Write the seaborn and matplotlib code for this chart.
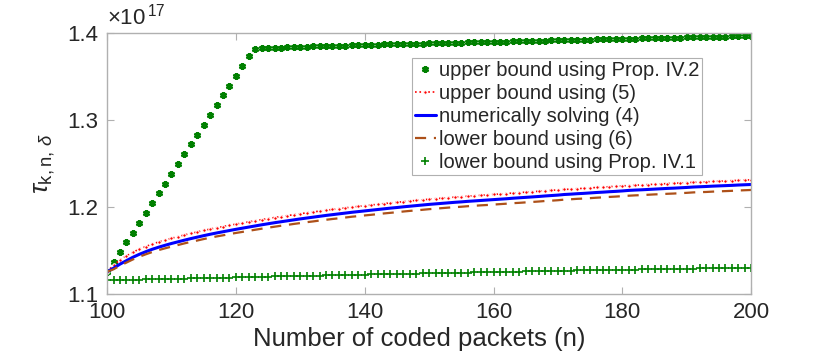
import numpy as np
import pandas as pd
import seaborn as sns
import matplotlib.pyplot as plt

# values in units of 1e17
n_vals = list(range(100, 201))

upper_prop = [
    1.1256, 1.1369, 1.1482, 1.1594, 1.1707, 1.1820, 1.1933, 1.2046, 1.2158, 1.2271,
    1.2384, 1.2497, 1.2610, 1.2722, 1.2835, 1.2948, 1.3061, 1.3174, 1.3286, 1.3399,
    1.3512, 1.3625, 1.3738, 1.3824, 1.3827, 1.3830, 1.3833, 1.3836, 1.3839, 1.3842,
    1.3845, 1.3847, 1.3849, 1.3851, 1.3853, 1.3855, 1.3857, 1.3859, 1.3861, 1.3864,
    1.3866, 1.3868, 1.3870, 1.3872, 1.3874, 1.3876, 1.3877, 1.3879, 1.3881, 1.3883,
    1.3885, 1.3887, 1.3889, 1.3890, 1.3892, 1.3894, 1.3896, 1.3897, 1.3899, 1.3901,
    1.3903, 1.3905, 1.3906, 1.3908, 1.3910, 1.3911, 1.3913, 1.3915, 1.3916, 1.3918,
    1.3920, 1.3922, 1.3923, 1.3925, 1.3927, 1.3928, 1.3930, 1.3932, 1.3933, 1.3935,
    1.3937, 1.3939, 1.3940, 1.3942, 1.3943, 1.3945, 1.3947, 1.3948, 1.3950, 1.3951,
    1.3953, 1.3955, 1.3956, 1.3958, 1.3959, 1.3961, 1.3963, 1.3964, 1.3966, 1.3967,
    1.3969]

upper_eq5 = [
    1.1256, 1.1331, 1.1391, 1.1438, 1.1480, 1.1516, 1.1546, 1.1574, 1.1598, 1.1620,
    1.1641, 1.1660, 1.1679, 1.1697, 1.1714, 1.1731, 1.1747, 1.1762, 1.1776, 1.1790,
    1.1804, 1.1817, 1.1830, 1.1843, 1.1856, 1.1868, 1.1880, 1.1891, 1.1902, 1.1913,
    1.1924, 1.1934, 1.1944, 1.1954, 1.1964, 1.1973, 1.1982, 1.1991, 1.2000, 1.2008,
    1.2016, 1.2024, 1.2032, 1.2040, 1.2048, 1.2055, 1.2063, 1.2070, 1.2077, 1.2084,
    1.2091, 1.2097, 1.2103, 1.2109, 1.2115, 1.2120, 1.2126, 1.2131, 1.2136, 1.2141,
    1.2146, 1.2151, 1.2156, 1.2162, 1.2167, 1.2172, 1.2177, 1.2182, 1.2188, 1.2193,
    1.2198, 1.2203, 1.2207, 1.2212, 1.2216, 1.2221, 1.2226, 1.2230, 1.2235, 1.2239,
    1.2244, 1.2248, 1.2252, 1.2255, 1.2259, 1.2263, 1.2267, 1.2271, 1.2274, 1.2278,
    1.2282, 1.2285, 1.2288, 1.2291, 1.2295, 1.2298, 1.2301, 1.2304, 1.2308, 1.2311,
    1.2314]

numeric_eq4 = [
    1.1256, 1.1296, 1.1343, 1.1383, 1.1422, 1.1456, 1.1486, 1.1514, 1.1538, 1.1560,
    1.1581, 1.1600, 1.1619, 1.1637, 1.1654, 1.1671, 1.1687, 1.1702, 1.1716, 1.1730,
    1.1744, 1.1757, 1.1770, 1.1783, 1.1796, 1.1808, 1.1820, 1.1831, 1.1842, 1.1853,
    1.1864, 1.1874, 1.1884, 1.1894, 1.1904, 1.1913, 1.1922, 1.1931, 1.1940, 1.1948,
    1.1956, 1.1964, 1.1972, 1.1980, 1.1988, 1.1995, 1.2003, 1.2010, 1.2017, 1.2024,
    1.2031, 1.2037, 1.2043, 1.2049, 1.2055, 1.2060, 1.2066, 1.2071, 1.2076, 1.2081,
    1.2086, 1.2091, 1.2096, 1.2102, 1.2107, 1.2112, 1.2117, 1.2122, 1.2128, 1.2133,
    1.2138, 1.2145, 1.2149, 1.2154, 1.2158, 1.2163, 1.2168, 1.2172, 1.2177, 1.2181,
    1.2186, 1.2192, 1.2196, 1.2199, 1.2203, 1.2207, 1.2211, 1.2215, 1.2218, 1.2222,
    1.2226, 1.2231, 1.2234, 1.2237, 1.2241, 1.2244, 1.2247, 1.2250, 1.2254, 1.2257,
    1.2260]

lower_eq6 = [
    1.1256, 1.1284, 1.1325, 1.1361, 1.1397, 1.1428, 1.1456, 1.1482, 1.1505, 1.1525,
    1.1545, 1.1563, 1.1582, 1.1599, 1.1615, 1.1632, 1.1647, 1.1662, 1.1675, 1.1689,
    1.1702, 1.1714, 1.1727, 1.1739, 1.1751, 1.1763, 1.1774, 1.1785, 1.1795, 1.1806,
    1.1816, 1.1826, 1.1835, 1.1845, 1.1854, 1.1863, 1.1871, 1.1880, 1.1889, 1.1896,
    1.1904, 1.1911, 1.1919, 1.1927, 1.1934, 1.1941, 1.1949, 1.1956, 1.1962, 1.1969,
    1.1976, 1.1982, 1.1988, 1.1994, 1.1999, 1.2004, 1.2010, 1.2015, 1.2020, 1.2024,
    1.2029, 1.2034, 1.2039, 1.2045, 1.2049, 1.2054, 1.2059, 1.2064, 1.2070, 1.2074,
    1.2079, 1.2086, 1.2090, 1.2095, 1.2098, 1.2103, 1.2108, 1.2112, 1.2117, 1.2121,
    1.2126, 1.2131, 1.2135, 1.2138, 1.2142, 1.2146, 1.2149, 1.2153, 1.2156, 1.2160,
    1.2164, 1.2169, 1.2172, 1.2174, 1.2178, 1.2181, 1.2184, 1.2187, 1.2191, 1.2194,
    1.2197]

lower_prop = [
    1.1156, 1.1158, 1.1160, 1.1161, 1.1163, 1.1165, 1.1167, 1.1169, 1.1170, 1.1172,
    1.1174, 1.1176, 1.1177, 1.1179, 1.1181, 1.1182, 1.1184, 1.1186, 1.1188, 1.1189,
    1.1191, 1.1193, 1.1194, 1.1196, 1.1197, 1.1199, 1.1201, 1.1202, 1.1204, 1.1205,
    1.1207, 1.1209, 1.1210, 1.1212, 1.1213, 1.1215, 1.1217, 1.1218, 1.1220, 1.1221,
    1.1223, 1.1224, 1.1226, 1.1227, 1.1229, 1.1230, 1.1232, 1.1233, 1.1235, 1.1236,
    1.1238, 1.1239, 1.1241, 1.1242, 1.1244, 1.1245, 1.1246, 1.1248, 1.1249, 1.1251,
    1.1252, 1.1253, 1.1255, 1.1256, 1.1258, 1.1259, 1.1260, 1.1262, 1.1263, 1.1265,
    1.1266, 1.1267, 1.1269, 1.1270, 1.1271, 1.1272, 1.1274, 1.1275, 1.1276, 1.1278,
    1.1279, 1.1280, 1.1281, 1.1283, 1.1284, 1.1285, 1.1286, 1.1287, 1.1288, 1.1290,
    1.1291, 1.1292, 1.1293, 1.1294, 1.1295, 1.1296, 1.1297, 1.1298, 1.1299, 1.1301,
    1.1302]

labels = ['upper bound using Prop. IV.2', 'upper bound using (5)',
          'numerically solving (4)', 'lower bound using (6)',
          'lower bound using Prop. IV.1']
x_ticks = [100, 120, 140, 160, 180, 200]
y_ticks = [1.1, 1.2, 1.3, 1.4]

sns.set_style('white')
plt.rcParams['font.family'] = ['Liberation Sans', 'DejaVu Sans']
plt.rcParams['mathtext.fontset'] = 'custom'
plt.rcParams['mathtext.rm'] = 'Liberation Sans'
plt.rcParams['mathtext.it'] = 'Liberation Sans:italic'

df = pd.DataFrame({'n': n_vals, 'up_prop': upper_prop, 'up5': upper_eq5,
                   'num4': numeric_eq4, 'low6': lower_eq6, 'low_prop': lower_prop})

fig = plt.figure(figsize=(8.3, 3.55), dpi=100)
ax = fig.add_axes([0.129, 0.172, 0.776, 0.734])

green = '#008000'
sns.lineplot(data=df, x='n', y='up_prop', ax=ax, color=green, linestyle='none',
             marker=(6, 2, 0), markersize=5, markeredgewidth=1.7,
             markeredgecolor=green, label=labels[0])
sns.lineplot(data=df, x='n', y='up5', ax=ax, color='#ff0000', linestyle=':',
             linewidth=1.2, marker='.', markersize=5, label=labels[1])
sns.lineplot(data=df, x='n', y='num4', ax=ax, color='#0000ff', linestyle='-',
             linewidth=2.2, label=labels[2])
sns.lineplot(data=df, x='n', y='low6', ax=ax, color='#ad5019', linestyle=(0, (5, 3.5)),
             linewidth=1.6, label=labels[3])
sns.lineplot(data=df, x='n', y='low_prop', ax=ax, color=green, linestyle='none',
             marker='+', markersize=5.5, markeredgewidth=1.2,
             markeredgecolor=green, label=labels[4])

ax.set_xlim(100, 200)
ax.set_ylim(1.1, 1.4)
ax.set_xticks(x_ticks)
ax.set_yticks(y_ticks)
ax.set_xticklabels([str(t) for t in x_ticks])
ax.set_yticklabels([f'{t:.1f}' for t in y_ticks])
ax.tick_params(direction='in', length=5, width=0.8, color='#b0b0b0',
               labelsize=16, labelcolor='#262626', top=True, right=True,
               bottom=True, left=True, pad=6)
for sp in ax.spines.values():
    sp.set_color('#b0b0b0')
    sp.set_linewidth(1.0)

ax.set_xlabel('Number of coded packets (n)', fontsize=18.5, color='#262626')
ax.xaxis.set_label_coords(0.4845, -0.125)
ax.set_ylabel(r'$\tau_{\mathrm{k,n},\,\delta}$', fontsize=19, color='#262626', labelpad=8)
ax.text(0.0, 1.015, r'$\times10^{\,17}$', transform=ax.transAxes, fontsize=16,
        color='#262626', ha='left', va='bottom')

leg = ax.legend(loc='upper left', bbox_to_anchor=(0.474, 0.905), borderaxespad=0,
                fontsize=14.5, frameon=True, fancybox=False, framealpha=1,
                edgecolor='#b0b0b0', handlelength=1.0, handletextpad=0.15,
                labelspacing=0.2, borderpad=0.15)
leg.get_frame().set_linewidth(0.8)

fig.savefig('out.png', dpi=100)
